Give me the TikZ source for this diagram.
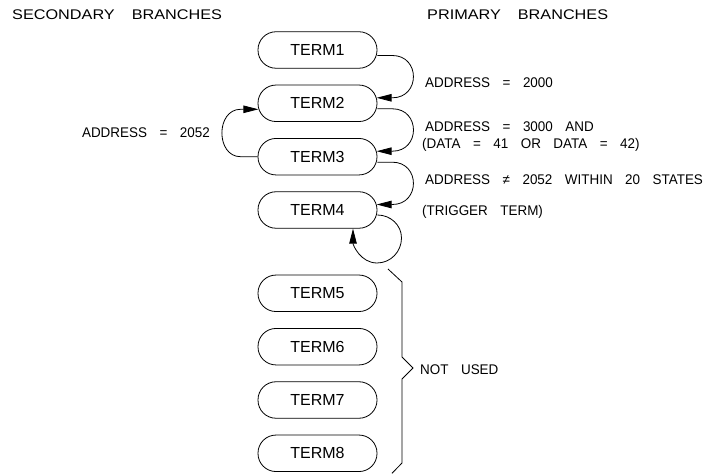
\documentclass[tikz,border=0pt]{standalone}
\usepackage{fontspec}
\setmainfont{Liberation Sans}
\newfontfamily\lblfont{Liberation Sans}[FakeStretch=0.96]
\newfontfamily\hdrfont{Liberation Sans}[FakeStretch=1.16]
\newcommand\lblsetup{\lblfont\fontsize{14}{14}\selectfont\spaceskip 12.5pt\relax}
\newcommand\hdrsetup{\hdrfont\fontsize{14}{14}\selectfont\spaceskip 17pt\relax}
\usetikzlibrary{arrows.meta}
\tikzset{
  termbox/.style={draw, line width=0.8pt, rounded corners=18pt, minimum width=119pt,
    minimum height=36.5pt, inner sep=0pt, font=\fontsize{16}{16}\selectfont},
  lbl/.style={inner sep=0pt, font=\lblsetup},
  hdr/.style={inner sep=0pt, anchor=base west, font=\hdrsetup},
  conn/.style={line width=0.8pt},
  tipped/.style={-{Triangle[length=15pt,width=7.5pt]}}
}
\begin{document}
\begin{tikzpicture}[x=1pt,y=1pt]
\useasboundingbox (0,0) rectangle (715,474);
% headers
\node[hdr] (hs) at (12,454.6) {SECONDARY BRANCHES};
\node[hdr] (hp) at (427,454.6) {PRIMARY BRANCHES};
% terms
\node[termbox] (T1) at (317.5,424) {TERM1};
\node[termbox] (T2) at (317.5,370.7) {TERM2};
\node[termbox] (T3) at (317.5,317.3) {TERM3};
\node[termbox] (T4) at (317.5,264) {TERM4};
\node[termbox] (T5) at (317.5,180.7) {TERM5};
\node[termbox] (T6) at (317.5,127.3) {TERM6};
\node[termbox] (T7) at (317.5,74) {TERM7};
\node[termbox] (T8) at (317.5,20.7) {TERM8};
% labels
\node[lbl, anchor=base west] (l1) at (425,386) {ADDRESS = 2000};
\node[lbl, anchor=base west] (l2) at (425,342) {ADDRESS = 3000 AND};
\node[lbl, anchor=base west] (l3) at (422,325) {(DATA = 41 OR DATA = 42)};
\node[lbl, anchor=base west] (l4) at (425,289) {ADDRESS ≠ 2052 WITHIN 20 STATES};
\node[lbl, anchor=base west] (l5) at (422,258) {(TRIGGER TERM)};
\node[lbl, anchor=base east] (ls) at (210,336.7) {ADDRESS = 2052};
\node[lbl, anchor=base west] (lu) at (420,99) {NOT USED};
% primary branches
\draw[conn,tipped] ([yshift=-5.5pt]T1.east) -- ++(15,0)
  to[out=0,in=0,looseness=1.7] ([xshift=15pt,yshift=5.5pt]T2.east) -- ([xshift=-0.8pt,yshift=5.5pt]T2.east);
\draw[conn,tipped] ([yshift=-5.5pt]T2.east) -- ++(15,0)
  to[out=0,in=0,looseness=1.7] ([xshift=15pt,yshift=5.5pt]T3.east) -- ([xshift=-0.8pt,yshift=5.5pt]T3.east);
\draw[conn,tipped] ([yshift=-5.5pt]T3.east) -- ++(15,0)
  to[out=0,in=0,looseness=1.7] ([xshift=15pt,yshift=5.5pt]T4.east) -- ([xshift=-0.8pt,yshift=5.5pt]T4.east);
% self loop on TERM4
\coordinate (L1) at (401.5,236);
\coordinate (L2) at (377,211);
\draw[conn,tipped] ([yshift=-5pt]T4.east) to[out=0,in=90] (L1)
  to[out=-90,in=0] (L2) to[out=180,in=-90] ([xshift=35.5pt]T4.south);
% secondary branch
\draw[conn,tipped] (T3.west) -- ++(-17,0)
  to[out=180,in=180,looseness=1.35] ([xshift=-17pt,yshift=-6pt]T2.west) -- ([xshift=0.8pt,yshift=-6pt]T2.west);
% brace for unused terms
\draw[conn] (388,205) -- (402,192) -- (402,117) -- (413,106) -- (402,95) -- (402,11) -- (392,0.7);
\end{tikzpicture}
\end{document}
